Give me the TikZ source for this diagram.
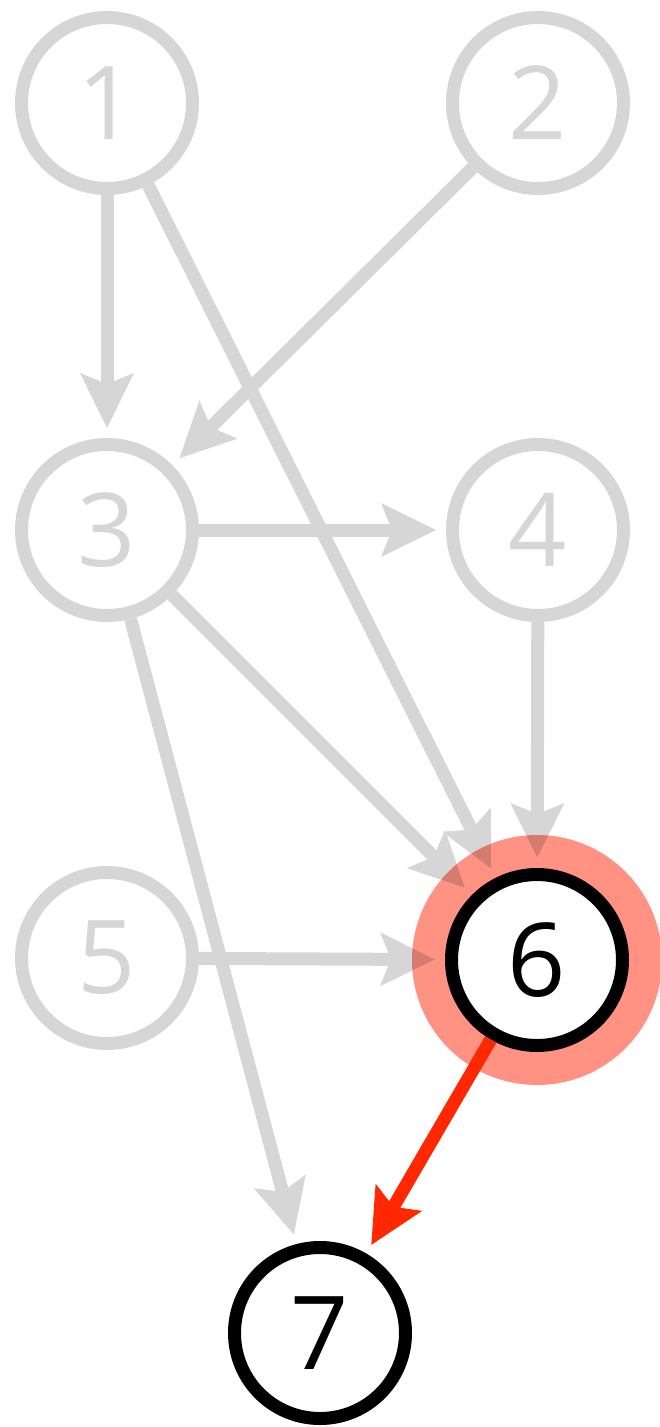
\documentclass[tikz,border=0pt]{standalone}
\usepackage{fontspec}
\setmainfont{Open Sans}
\usetikzlibrary{arrows.meta}
\definecolor{gry}{HTML}{D6D6D6}
\definecolor{halo}{RGB}{255,146,130}
\definecolor{blend}{RGB}{214,123,109}
\definecolor{redarr}{RGB}{255,40,0}
\newcommand\greyedges[1]{%
  \draw[edge,#1] (n1) -- (n3);
  \draw[edge,#1] (n2) -- (n3);
  \draw[edge,#1] (n1) -- (n6);
  \draw[edge,#1] (n3) -- (n4);
  \draw[edge,#1] (n3) -- (n6);
  \draw[edge,#1] (n4) -- (n6);
  \draw[edge,#1] (n3) -- (n7);
  \draw[edge,#1] (n5) -- (n6);
}
\begin{document}
\begin{tikzpicture}[x=1pt,y=-1pt,
 nd/.style={circle,minimum size=171pt,inner sep=0pt,line width=13pt,font=\fontsize{102pt}{102pt}\selectfont},
 grynode/.style={nd,draw=gry,text=gry},
 blknode/.style={nd,draw=black,fill=white,text=black},
 edge/.style={line width=13pt,-{Stealth[length=55pt,width=54pt,inset=11pt,line width=0pt]},shorten >=10pt}]
\useasboundingbox (0,0) rectangle (659,1427);
\coordinate (c6) at (537,960);
\fill[halo] (c6) circle (125pt);
\node[grynode] (n1) at (107,103) {1};
\node[grynode] (n2) at (538,103) {2};
\node[grynode] (n3) at (107,530) {3};
\node[grynode] (n4) at (538,530) {4};
\node[grynode] (n5) at (107,958) {5};
\node[blknode] (n6) at (c6) {6};
\node[blknode] (n7) at (320,1333) {7};
\greyedges{gry}
\begin{scope}
  \clip (c6) circle (125pt);
  \greyedges{blend}
\end{scope}
\draw[edge,redarr] (n6) -- (n7);
\end{tikzpicture}
\end{document}
